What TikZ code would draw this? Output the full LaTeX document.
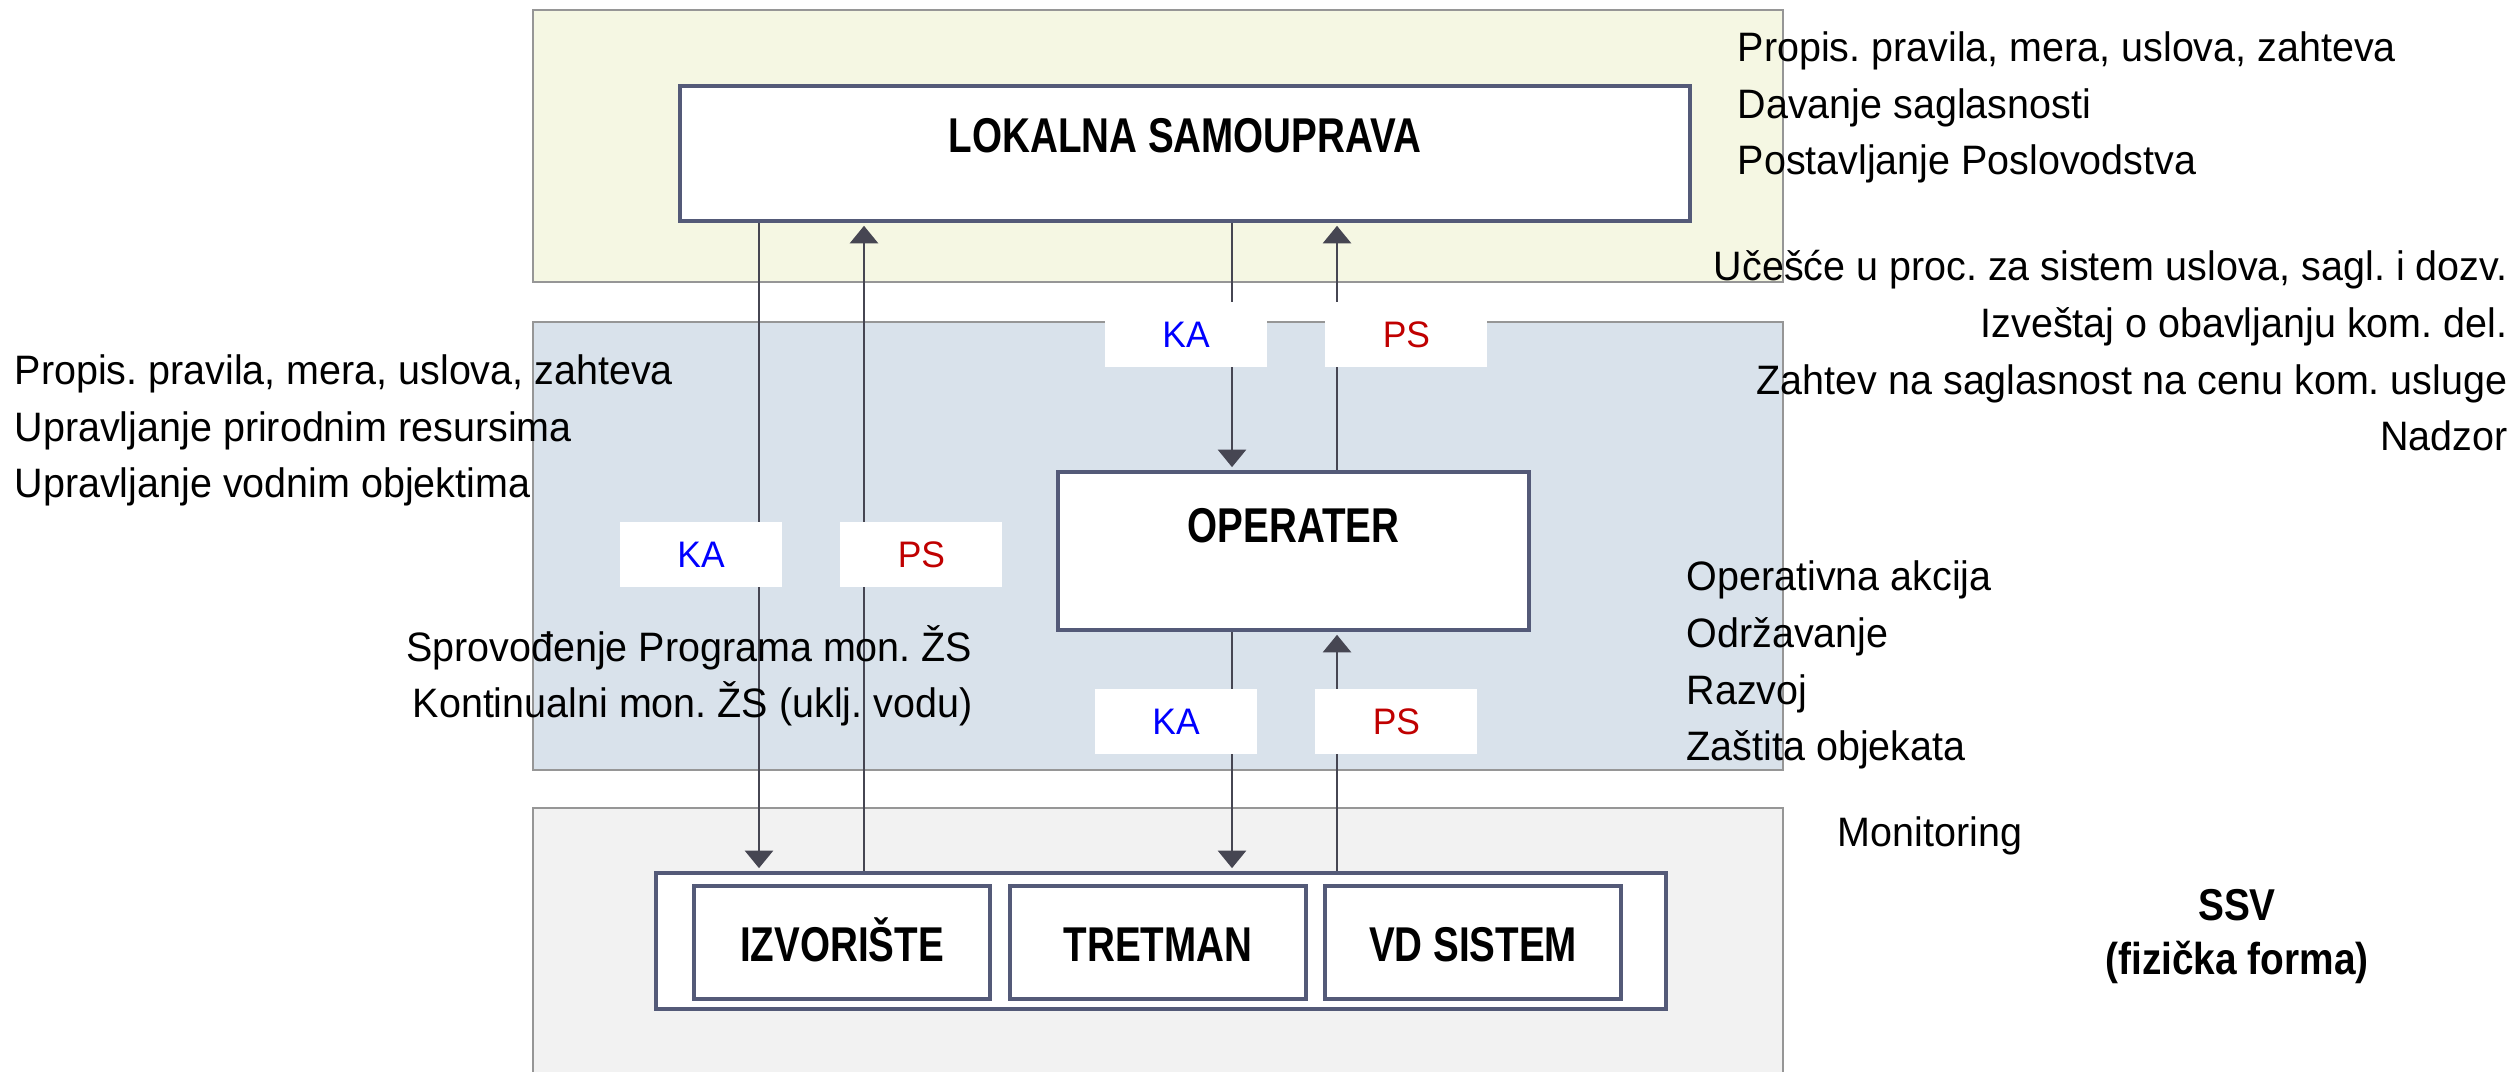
\documentclass[tikz,border=0pt]{standalone}
\usepackage{fontspec}
\setmainfont{Liberation Sans}[FakeStretch=0.96]
\newfontfamily\boxfont{Liberation Sans}[FakeStretch=0.79]
\newfontfamily\ssvfont{Liberation Sans}[FakeStretch=0.87]
\usepackage{tikz}
\usetikzlibrary{arrows.meta,positioning}
\frenchspacing

\definecolor{yellowband}{RGB}{245,247,227}
\definecolor{blueband}{RGB}{217,226,235}
\definecolor{grayband}{RGB}{242,242,242}
\definecolor{bandline}{RGB}{150,150,150}
\definecolor{boxline}{RGB}{84,90,120}
\definecolor{flowline}{RGB}{70,70,82}
\definecolor{kablue}{RGB}{0,0,255}
\definecolor{psred}{RGB}{192,0,0}

\tikzset{
  band/.style={draw=bandline, line width=0.45pt},
  unit/.style={draw=boxline, fill=white, line width=1.15pt, inner sep=0pt},
  unitname/.style={font=\boxfont\bfseries\fontsize{13.9}{16}\selectfont, inner sep=0pt},
  flow/.style={draw=flowline, line width=0.75pt, shorten >=0.8pt, -{Triangle[width=8pt,length=5pt]}},
  tag/.style={fill=white, minimum width=1.62cm, minimum height=0.65cm, inner sep=0pt, font=\fontsize{10.5}{12}\selectfont},
  note/.style={font=\fontsize{11.7}{16.2}\selectfont, inner sep=0pt},
}

\begin{document}
\begin{tikzpicture}
        \useasboundingbox (0,0) rectangle (25.14,10.72);

        % levels
        \draw[band, fill=yellowband] (5.33,7.90) rectangle (17.83,10.62);
        \draw[band, fill=blueband] (5.33,3.02) rectangle (17.83,7.50);
        \draw[band, fill=grayband] (5.33,-0.1) rectangle (17.83,2.64);

        \node (lokalna) [unit, minimum width=10.10cm, minimum height=1.35cm] at (11.85,9.185) {};
        \node (operater) [unit, minimum width=4.71cm, minimum height=1.58cm] at (12.935,5.21) {};
        \node (ssv) [unit, minimum width=10.10cm, minimum height=1.36cm] at (11.61,1.31) {};
        \node (izvoriste) [unit, minimum width=2.96cm, minimum height=1.13cm] at (8.42,1.295) {};
        \node (tretman) [unit, minimum width=2.96cm, minimum height=1.13cm, right=0.16cm of izvoriste] {};
        \node (vdsistem) [unit, minimum width=2.96cm, minimum height=1.13cm, right=0.15cm of tretman] {};

        \node (lokalnatxt) [unitname, anchor=base] at ([yshift=0.01cm]lokalna.center) {LOKALNA SAMOUPRAVA};
        \node (operatertxt) [unitname, anchor=base] at ([yshift=0.08cm]operater.center) {OPERATER};
        \node (izvoristetxt) [unitname, anchor=base] at ([yshift=-0.19cm]izvoriste.center) {IZVORIŠTE};
        \node (tretmantxt) [unitname, anchor=base] at ([yshift=-0.19cm]tretman.center) {TRETMAN};
        \node (vdsistemtxt) [unitname, anchor=base] at ([yshift=-0.19cm]vdsistem.center) {VD SISTEM};

        \coordinate (kaleft) at (7.59,0);
        \coordinate (psleft) at (8.64,0);
        \coordinate (karight) at (12.32,0);
        \coordinate (psright) at (13.37,0);

        \draw[flow] (lokalna.south -| kaleft) -- (ssv.north -| kaleft);
        \draw[flow] (ssv.north -| psleft) -- (lokalna.south -| psleft);
        \draw[flow] (lokalna.south -| karight) -- (operater.north -| karight);
        \draw[flow] (operater.north -| psright) -- (lokalna.south -| psright);
        \draw[flow] (operater.south -| karight) -- (ssv.north -| karight);
        \draw[flow] (ssv.north -| psright) -- (operater.south -| psright);

        \node (kaup) [tag, text=kablue] at (11.86,7.375) {KA};
        \node (psup) [tag, text=psred, right=0.57cm of kaup] {PS};
        \node (kamid) [tag, text=kablue] at (7.01,5.175) {KA};
        \node (psmid) [tag, text=psred, right=0.57cm of kamid] {PS};
        \node (kalow) [tag, text=kablue] at (11.76,3.505) {KA};
        \node (pslow) [tag, text=psred, right=0.57cm of kalow] {PS};

        % base = baseline of the last line
        \node (lsduties) [note, align=left, anchor=base west] at (17.37,8.97)
          {Propis. pravila, mera, uslova, zahteva\\Davanje saglasnosti\\Postavljanje Poslovodstva};
        \node (opreports) [note, align=right, anchor=base east] at (25.08,6.21)
          {Učešće u proc. za sistem uslova, sagl. i dozv.\\Izveštaj o obavljanju kom. del.\\Zahtev na saglasnost na cenu kom. usluge\\Nadzor};
        \node (stateduties) [note, align=left, anchor=base west] at (0.14,5.74)
          {Propis. pravila, mera, uslova, zahteva\\Upravljanje prirodnim resursima\\Upravljanje vodnim objektima};
        \node (montxt) [note, align=right, anchor=base east] at (9.73,3.54)
          {Sprovođenje Programa mon. ŽS\\Kontinualni mon. ŽS (uklj. vodu)};
        \node (opduties) [note, align=left, anchor=base west] at (16.86,3.11)
          {Operativna akcija\\Održavanje\\Razvoj\\Zaštita objekata};
        \node (monitoring) [note, anchor=base west] at (18.37,2.25) {Monitoring};
        \node (ssvtxt) [font=\ssvfont\bfseries\fontsize{12.7}{15.6}\selectfont, align=center, anchor=base, inner sep=0pt] at (22.37,0.97)
          {SSV\\(fizička forma)};
      \end{tikzpicture}
\end{document}
